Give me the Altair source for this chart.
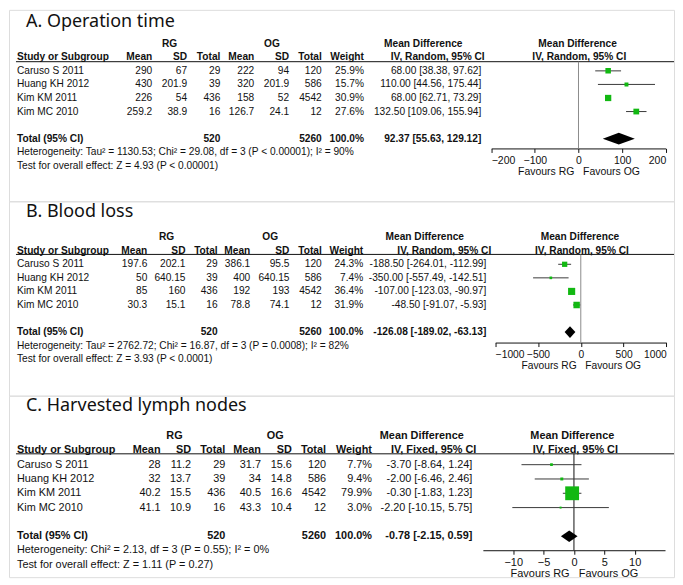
import altair as alt
import pandas as pd

studies = ["Caruso S 2011", "Huang KH 2012", "Kim KM 2011", "Kim MC 2010"]
rg_total = 520
og_total = 5260

# A. Operation time
op_rg_mean = [290, 430, 226, 259.2]
op_rg_sd = [67, 201.9, 54, 38.9]
op_rg_n = [29, 39, 436, 16]
op_og_mean = [222, 320, 158, 126.7]
op_og_sd = [94, 201.9, 52, 24.1]
op_og_n = [120, 586, 4542, 12]
op_weight = [25.9, 15.7, 30.9, 27.6]
op_md = [68.00, 110.00, 68.00, 132.50]
op_lo = [38.38, 44.56, 62.71, 109.06]
op_hi = [97.62, 175.44, 73.29, 155.94]
op_total = [92.37, 55.63, 129.12]
op_het = "Heterogeneity: Tau² = 1130.53; Chi² = 29.08, df = 3 (P < 0.00001); I² = 90%"
op_test = "Test for overall effect: Z = 4.93 (P < 0.00001)"
op_ticks = [-200, -100, 0, 100, 200]

# B. Blood loss
bl_rg_mean = [197.6, 50, 85, 30.3]
bl_rg_sd = [202.1, 640.15, 160, 15.1]
bl_rg_n = [29, 39, 436, 16]
bl_og_mean = [386.1, 400, 192, 78.8]
bl_og_sd = [95.5, 640.15, 193, 74.1]
bl_og_n = [120, 586, 4542, 12]
bl_weight = [24.3, 7.4, 36.4, 31.9]
bl_md = [-188.50, -350.00, -107.00, -48.50]
bl_lo = [-264.01, -557.49, -123.03, -91.07]
bl_hi = [-112.99, -142.51, -90.97, -5.93]
bl_total = [-126.08, -189.02, -63.13]
bl_het = "Heterogeneity: Tau² = 2762.72; Chi² = 16.87, df = 3 (P = 0.0008); I² = 82%"
bl_test = "Test for overall effect: Z = 3.93 (P < 0.0001)"
bl_ticks = [-1000, -500, 0, 500, 1000]

# C. Harvested lymph nodes
ln_rg_mean = [28, 32, 40.2, 41.1]
ln_rg_sd = [11.2, 13.7, 15.5, 10.9]
ln_rg_n = [29, 39, 436, 16]
ln_og_mean = [31.7, 34, 40.5, 43.3]
ln_og_sd = [15.6, 14.8, 16.6, 10.4]
ln_og_n = [120, 586, 4542, 12]
ln_weight = [7.7, 9.4, 79.9, 3.0]
ln_md = [-3.70, -2.00, -0.30, -2.20]
ln_lo = [-8.64, -6.46, -1.83, -10.15]
ln_hi = [1.24, 2.46, 1.23, 5.75]
ln_total = [-0.78, -2.15, 0.59]
ln_het = "Heterogeneity: Chi² = 2.13, df = 3 (P = 0.55); I² = 0%"
ln_test = "Test for overall effect: Z = 1.11 (P = 0.27)"
ln_ticks = [-10, -5, 0, 5, 10]

FONT = "Liberation Sans"
TXT = "#111111"
GREEN = "#12b812"
W = 667


def ci_text(m, lo, hi):
    return f"{m:.2f} [{lo:.2f}, {hi:.2f}]"


def panel(title, method, data, L):
    (rg_mean, rg_sd, rg_n, og_mean, og_sd, og_n, weight, md, lo, hi,
     total, het, test, ticks, domain) = data
    c = L["cols"]
    cells = []

    def add(x, row, text, kind):
        cells.append({"x": x, "row": row, "text": text, "kind": kind})

    # header rows
    add(c["rg"], 0, "RG", "cb")
    add(c["og"], 0, "OG", "cb")
    add(c["mdh"], 0, "Mean Difference", "cb")
    add(c["fmd"], 0, "Mean Difference", "cb")
    add(c["left"], 1, "Study or Subgroup", "lb")
    for key, lab in [("m1", "Mean"), ("s1", "SD"), ("n1", "Total"),
                     ("m2", "Mean"), ("s2", "SD"), ("n2", "Total"),
                     ("w", "Weight")]:
        add(c[key], 1, lab, "rb")
    add(c["ivh"], 1, method, "cb")
    add(c["fiv"], 1, method, "cb")
    # studies
    for i, s in enumerate(studies):
        r = 2 + i
        add(c["left"], r, s, "ln")
        add(c["m1"], r, str(rg_mean[i]), "rn")
        add(c["s1"], r, str(rg_sd[i]), "rn")
        add(c["n1"], r, str(rg_n[i]), "rn")
        add(c["m2"], r, str(og_mean[i]), "rn")
        add(c["s2"], r, str(og_sd[i]), "rn")
        add(c["n2"], r, str(og_n[i]), "rn")
        add(c["w"], r, f"{weight[i]:.1f}%", "rn")
        add(c["ci"], r, ci_text(md[i], lo[i], hi[i]), "rn")
    # total
    add(c["left"], 7, "Total (95% CI)", "lb")
    add(c["n1"], 7, str(rg_total), "rb")
    add(c["n2"], 7, str(og_total), "rb")
    add(c["w"], 7, "100.0%", "rb")
    add(c["ci"], 7, ci_text(*total), "rb")
    add(c["left"], 8, het, "ln")
    add(c["left"], 9, test, "ln")
    cdf = pd.DataFrame(cells)

    ys = alt.Scale(domain=[0, 9], range=L["rows"], nice=False, zero=False)
    xs = alt.Scale(domain=domain, range=L["xr"], nice=False, zero=False)
    fs = L["fs"]

    layers = []
    styles = {
        "ln": ("left", "normal"), "rn": ("right", "normal"),
        "lb": ("left", "bold"), "rb": ("right", "bold"), "cb": ("center", "bold"),
    }
    for kind, (align, weight_) in styles.items():
        layers.append(
            alt.Chart(cdf[cdf.kind == kind]).mark_text(
                align=align, baseline="middle", font=FONT, fontSize=fs,
                fontWeight=weight_, color=TXT,
            ).encode(
                x=alt.X("x:Q", scale=None, axis=None),
                y=alt.Y("row:Q", scale=ys, axis=None),
                text="text:N",
            )
        )
    # panel title
    layers.append(
        alt.Chart(pd.DataFrame({"t": [title]})).mark_text(
            align="left", baseline="alphabetic", font="Noto Sans",
            fontSize=18, color=TXT,
        ).encode(x=alt.value(17), y=alt.value(L["title_y"]), text="t:N")
    )
    # header underline
    layers.append(
        alt.Chart(pd.DataFrame({"a": [0]})).mark_rule(color=TXT, strokeWidth=1).encode(
            x=alt.value(7), x2=alt.value(W), y=alt.value(L["line_y"])
        )
    )
    # zero line with axis
    layers.append(
        alt.Chart(pd.DataFrame({"z": [0]})).mark_rule(
            color=L["zero_color"], strokeWidth=1
        ).encode(
            x=alt.X(
                "z:Q", scale=xs,
                axis=alt.Axis(
                    values=ticks, format="d", labelOverlap=False,
                    title="Favours RG\u00a0\u00a0\u00a0Favours OG",
                    titleFont=FONT, titleFontSize=L["afs"], titleFontWeight="normal",
                    titleColor=TXT, labelFont=FONT, labelFontSize=L["afs"],
                    labelColor=TXT, domainColor=TXT, tickColor=TXT, tickSize=4,
                    labelPadding=L["lp"], titlePadding=L["tp"],
                    offset=L["axis_y"] - L["h"],
                    grid=False, orient="bottom",
                ),
            ),
            y=alt.value(L["line_y"]),
            y2=alt.value(L["axis_y"]),
        )
    )
    fdf = pd.DataFrame({"row": [2, 3, 4, 5], "md": md, "lo": lo, "hi": hi, "w": weight})
    # CI lines
    layers.append(
        alt.Chart(fdf).mark_rule(color="#3a3a3a", strokeWidth=1).encode(
            x=alt.X("lo:Q", scale=xs, axis=None),
            x2="hi:Q",
            y=alt.Y("row:Q", scale=ys, axis=None),
        )
    )
    # squares
    layers.append(
        alt.Chart(fdf).transform_calculate(
            area="pow(1.5 + 0.155 * datum.w, 2)"
        ).mark_square(color=GREEN, opacity=1, filled=True).encode(
            x=alt.X("md:Q", scale=xs, axis=None),
            y=alt.Y("row:Q", scale=ys, axis=None),
            size=alt.Size("area:Q", scale=None, legend=None),
        )
    )
    # diamond
    hh = L["dh"]
    ddf = pd.DataFrame({
        "x": [total[1], total[0], total[2]],
        "y": [7, 7 - hh, 7],
        "y2": [7, 7 + hh, 7],
    })
    layers.append(
        alt.Chart(ddf).mark_area(color="black", orient="vertical").encode(
            x=alt.X("x:Q", scale=xs, axis=None),
            y=alt.Y("y:Q", scale=ys, axis=None, stack=None),
            y2="y2:Q",
        )
    )
    return alt.layer(*layers).resolve_scale(x="independent").properties(
        width=W, height=L["h"]
    )


LA = dict(
    h=192, rows=[34, 156.4], title_y=17.5, line_y=52, axis_y=139,
    xr=[483.7, 658.7], fs=10.2, afs=10.5, lp=3, tp=1,
    zero_color="#8c8c8c", dh=0.43,
    cols=dict(left=8, m1=143.7, s1=178.7, n1=212, m2=246, s2=281, n2=313.7,
              w=356, ci=473.7, rg=161, og=263.7, mdh=415.5, ivh=430,
              fmd=570.3, fiv=572),
)
LB = dict(
    h=195, rows=[36, 158.4], title_y=16, line_y=53.3, axis_y=141.7,
    xr=[487.7, 659.3], fs=10.2, afs=10.3, lp=3, tp=1,
    zero_color="#8c8c8c", dh=0.43,
    cols=dict(left=8, m1=138.7, s1=177, n1=209.3, m2=242, s2=281.3, n2=313.7,
              w=355.3, ci=478.7, rg=158, og=262, mdh=417, ivh=436.6,
              fmd=572.7, fiv=574.7),
)
LC = dict(
    h=182, rows=[40.5, 169.6], title_y=15, line_y=58.3, axis_y=155,
    xr=[475.3, 658], fs=10.9, afs=11, lp=2, tp=0,
    zero_color="#111111", dh=0.4,
    cols=dict(left=8, m1=152, s1=182.7, n1=217, m2=252.7, s2=283.7, n2=318,
              w=364, ci=464.7, rg=166, og=267, mdh=414, ivh=426,
              fmd=565, fiv=568),
)

pA = panel("A. Operation time", "IV, Random, 95% CI",
           (op_rg_mean, op_rg_sd, op_rg_n, op_og_mean, op_og_sd, op_og_n,
            op_weight, op_md, op_lo, op_hi, op_total, op_het, op_test,
            op_ticks, [-200, 200]), LA)
pB = panel("B. Blood loss", "IV, Random, 95% CI",
           (bl_rg_mean, bl_rg_sd, bl_rg_n, bl_og_mean, bl_og_sd, bl_og_n,
            bl_weight, bl_md, bl_lo, bl_hi, bl_total, bl_het, bl_test,
            bl_ticks, [-1000, 1000]), LB)
pC = panel("C. Harvested lymph nodes", "IV, Fixed, 95% CI",
           (ln_rg_mean, ln_rg_sd, ln_rg_n, ln_og_mean, ln_og_sd, ln_og_n,
            ln_weight, ln_md, ln_lo, ln_hi, ln_total, ln_het, ln_test,
            ln_ticks, [-15, 15]), LC)

chart = alt.vconcat(pA, pB, pC, spacing=0, bounds="flush").properties(
    padding=0
).configure_view(stroke=None).configure(background="white")

chart.save("out.html", embed_options={"renderer": "svg", "actions": False})
